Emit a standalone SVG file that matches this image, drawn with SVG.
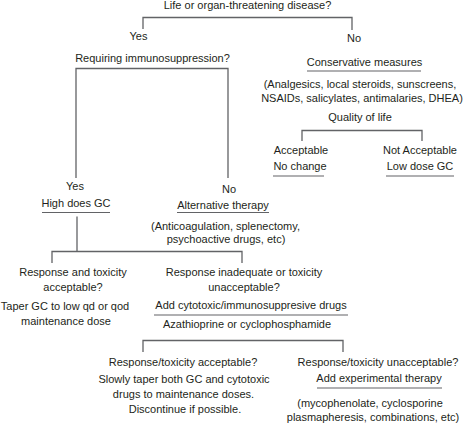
<svg xmlns="http://www.w3.org/2000/svg" width="465" height="425" viewBox="0 0 465 425">
<style>
text{font-family:"Liberation Sans",Arial,sans-serif;font-size:11px;fill:#231f20;text-anchor:middle}
.c{fill:none;stroke:#626366;stroke-width:1.3}
.u{fill:none;stroke:#626366;stroke-width:1.2}
</style>
<rect width="465" height="425" fill="#fff"/>
<g id="connectors">
<path class="c" d="M143,29 V17.5 H352 V30"/>
<path class="c" d="M76,178 V68.5 H228 V178"/>
<path class="c" d="M302,141 V130.5 H422 V141"/>
<path class="c" d="M77,216.5 V251.5"/>
<path class="c" d="M52,263 V251.5 H242 V263"/>
<path class="c" d="M143,352 V340.5 H343 V352"/>
</g>
<g id="n-root"><text x="247.5" y="9">Life or organ-threatening disease?</text></g>
<g id="n-yes1"><text x="138.5" y="39.5">Yes</text></g>
<g id="n-no1"><text x="354" y="42">No</text></g>
<g id="n-immuno"><text x="152.5" y="62">Requiring immunosuppression?</text></g>
<g id="n-conservative">
<text x="364.5" y="66">Conservative measures</text>
<line class="u" x1="307" y1="71" x2="421" y2="71"/>
<text x="360" y="87.5">(Analgesics, local steroids, sunscreens,</text>
<text x="362" y="102">NSAIDs, salicylates, antimalaries, DHEA)</text>
</g>
<g id="n-quality"><text x="360" y="121">Quality of life</text></g>
<g id="n-acceptable">
<text x="301" y="154">Acceptable</text>
<text x="300" y="170">No change</text>
<line class="u" x1="273" y1="176" x2="324" y2="176"/>
</g>
<g id="n-notacceptable">
<text x="420" y="154">Not Acceptable</text>
<text x="420" y="170">Low dose GC</text>
<line class="u" x1="386" y1="176" x2="454" y2="176"/>
</g>
<g id="n-highgc">
<text x="75" y="190">Yes</text>
<text x="76" y="206.5">High does GC</text>
<line class="u" x1="42" y1="212.5" x2="110" y2="212.5"/>
</g>
<g id="n-alternative">
<text x="229" y="192.5">No</text>
<text x="223" y="208.5">Alternative therapy</text>
<line class="u" x1="177" y1="212.5" x2="269" y2="212.5"/>
<text x="225.5" y="229.5">(Anticoagulation, splenectomy,</text>
<text x="226" y="243">psychoactive drugs, etc)</text>
</g>
<g id="n-acc1">
<text x="73" y="276">Response and toxicity</text>
<text x="73" y="291">acceptable?</text>
<text x="65" y="309.5">Taper GC to low qd or qod</text>
<text x="66" y="324.5">maintenance dose</text>
</g>
<g id="n-unacc1">
<text x="244" y="276">Response inadequate or toxicity</text>
<text x="244" y="291">unacceptable?</text>
<text x="251" y="308.5">Add cytotoxic/immunosuppresive drugs</text>
<line class="u" x1="154" y1="315" x2="348" y2="315"/>
<text x="247" y="328">Azathioprine or cyclophosphamide</text>
</g>
<g id="n-acc2">
<text x="183" y="365.5">Response/toxicity acceptable?</text>
<text x="184" y="382.5">Slowly taper both GC and cytotoxic</text>
<text x="183.5" y="397.5">drugs to maintenance doses.</text>
<text x="185" y="412.5">Discontinue if possible.</text>
</g>
<g id="n-unacc2">
<text x="378" y="365.5">Response/toxicity unacceptable?</text>
<text x="379" y="381.5">Add experimental therapy</text>
<line class="u" x1="317" y1="388" x2="442" y2="388"/>
<text x="370" y="407">(mycophenolate, cyclosporine</text>
<text x="373" y="421">plasmapheresis, combinations, etc)</text>
</g>
</svg>
